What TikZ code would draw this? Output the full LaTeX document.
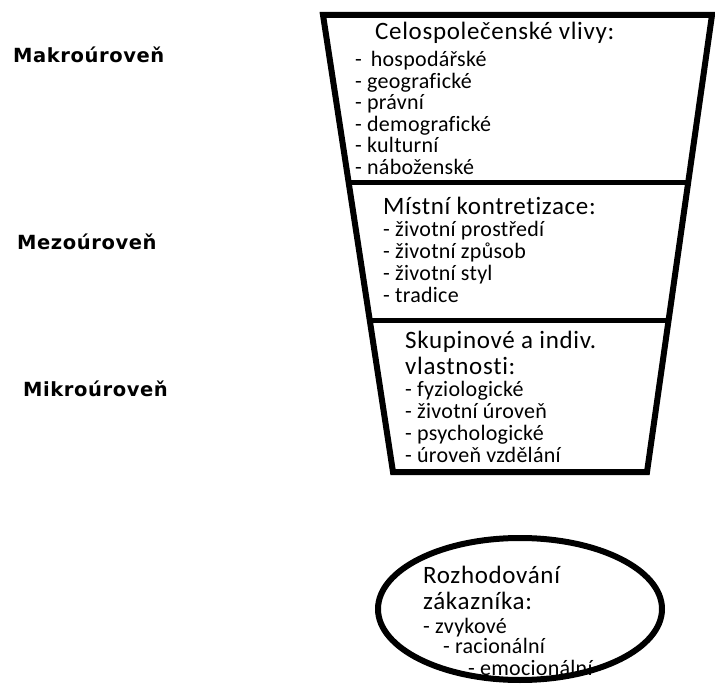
\documentclass[tikz,border=0pt]{standalone}
\usepackage{fontspec}
\setmainfont{Carlito}
\newfontfamily\itemfont{Carlito}[LetterSpace=1.2,Ligatures=NoCommon]
\newfontfamily\headfont{Carlito}[LetterSpace=2.7,Ligatures=NoCommon]
\newfontfamily\lblfont{DejaVu Sans}[LetterSpace=3]
\usetikzlibrary{shapes.geometric,calc}
\begin{document}
\begin{tikzpicture}[x=1pt,y=-1pt,
  item/.style={anchor=base west,inner sep=0pt,font=\itemfont\fontsize{22}{24}\selectfont},
  head/.style={anchor=base west,inner sep=0pt,font=\headfont\fontsize{25}{28}\selectfont},
  lvl/.style={anchor=base west,inner sep=0pt,font=\lblfont\bfseries\fontsize{19.5}{22}\selectfont},
  outline/.style={line width=6pt,line join=miter},
  divider/.style={line width=5pt},
  oval/.style={draw,ellipse,line width=6pt,minimum width=284pt,minimum height=142pt,inner sep=0pt}]
\useasboundingbox (0,0) rectangle (715,684);
% funnel corners
\coordinate (tl) at (323,15);
\coordinate (tr) at (712,15);
\coordinate (br) at (647,472);
\coordinate (bl) at (393,472);
\draw[outline] (tl) -- (tr) -- (br) -- (bl) -- cycle;
\coordinate (d1l) at ($(tl)!0.367!(bl)$);
\coordinate (d1r) at ($(tr)!0.367!(br)$);
\coordinate (d2l) at ($(tl)!0.669!(bl)$);
\coordinate (d2r) at ($(tr)!0.669!(br)$);
\draw[divider] (d1l) -- (d1r);
\draw[divider] (d2l) -- (d2r);
% level labels
\node[lvl] (makro) at (13,63) {Makroúroveň};
\node[lvl] (mezo) at (17,250) {Mezoúroveň};
\node[lvl] (mikro) at (23,397) {Mikroúroveň};
% section 1
\node[head] (h1) at (375,40) {Celospolečenské vlivy:};
\node[item] (a1) at (355,67) {- \,hospodářské};
\node[item] (a2) at (355,89) {- geografické};
\node[item] (a3) at (355,110) {- právní};
\node[item] (a4) at (355,132) {- demografické};
\node[item] (a5) at (355,153) {- kulturní};
\node[item] (a6) at (355,175) {- náboženské};
% section 2
\node[head] (h2) at (383,215) {Místní kontretizace:};
\node[item] (b1) at (383,237) {- životní prostředí};
\node[item] (b2) at (383,259) {- životní způsob};
\node[item] (b3) at (383,281) {- životní styl};
\node[item] (b4) at (383,303) {- tradice};
% section 3
\node[head] (h3a) at (405,349) {Skupinové a indiv.};
\node[head] (h3b) at (405,375) {vlastnosti:};
\node[item] (c1) at (405,397) {- fyziologické};
\node[item] (c2) at (405,419) {- životní úroveň};
\node[item] (c3) at (405,441) {- psychologické};
\node[item] (c4) at (405,462) {- úroveň vzdělání};
% decision ellipse
\node[oval] (dec) at (520,609) {};
\node[head] (e1) at (423,583) {Rozhodování};
\node[head] (e2) at (423,609) {zákazníka:};
\node[item] (e3) at (423,633) {- zvykové};
\node[item] (e4) at (443,653) {- racionální};
\node[item] (e5) at (468,675) {- emocionální};
\end{tikzpicture}
\end{document}
